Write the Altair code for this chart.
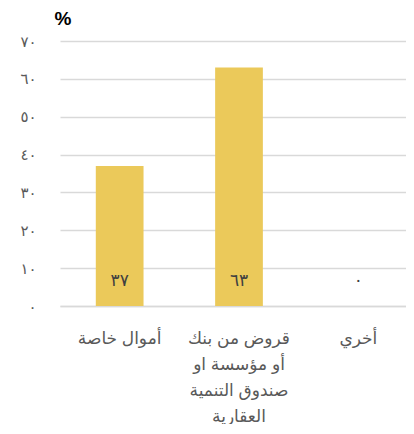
import altair as alt
import pandas as pd

categories = ["أموال خاصة", "قروض من بنك|أو مؤسسة او|صندوق التنمية|العقارية", "أخري"]
values = [37, 63, 0]
value_labels = ["٣٧", "٦٣", "٠"]
tick_values = [0, 10, 20, 30, 40, 50, 60, 70]
tick_labels = ["٠", "١٠", "٢٠", "٣٠", "٤٠", "٥٠", "٦٠", "٧٠"]

df = pd.DataFrame({"cat": categories, "val": values, "lab": value_labels})

FONT = "Arial, DejaVu Sans"
label_expr = "[" + ",".join("'%s'" % t for t in tick_labels) + "][round(datum.value/10)]"

x_axis = alt.Axis(
    labelAngle=0, labelExpr="split(datum.label, '|')", labelFontSize=17,
    labelColor="#595959", labelFont=FONT, labelLineHeight=26, labelPadding=24,
    labelBaseline="top",
    domainColor="#d9d9d9", domainWidth=1.5, ticks=False, labelLimit=200,
)
x_scale = alt.Scale(paddingInner=0.6, paddingOuter=0.3)

y_axis = alt.Axis(
    values=tick_values, tickCount=8, labelExpr=label_expr, title="%", titleAngle=0,
    titleAlign="left", titleBaseline="bottom", titleX=-6, titleY=-13,
    titleFontSize=19, titleFontWeight="bold", titleColor="#000000", titleFont=FONT,
    labelFontSize=15, labelColor="#595959", labelFont=FONT, labelPadding=24,
    labelOverlap=False, domain=False, ticks=False, gridColor="#d9d9d9", gridWidth=1.5,
)
y_scale = alt.Scale(domain=[0, 70], nice=False)

bars = alt.Chart(df).mark_bar(color="#EBC95A").encode(
    x=alt.X("cat:N", sort=None, title=None, scale=x_scale, axis=x_axis),
    y=alt.Y("val:Q", scale=y_scale, axis=y_axis),
)

texts = alt.Chart(df).mark_text(
    fontSize=17, color="#404040", font=FONT, baseline="middle", dy=-25
).encode(
    x=alt.X("cat:N", sort=None, title=None, scale=x_scale, axis=x_axis),
    y=alt.YDatum(0, scale=y_scale, axis=y_axis),
    text="lab:N",
)

chart = (
    alt.layer(bars, texts)
    .properties(
        width=358, height=265,
        autosize=alt.AutoSizeParams(type="none"),
        padding={"left": 52, "top": 33, "right": -12, "bottom": 118},
    )
    .configure_view(stroke=None)
)

chart.save("out.html", embed_options={"renderer": "svg", "actions": False})
